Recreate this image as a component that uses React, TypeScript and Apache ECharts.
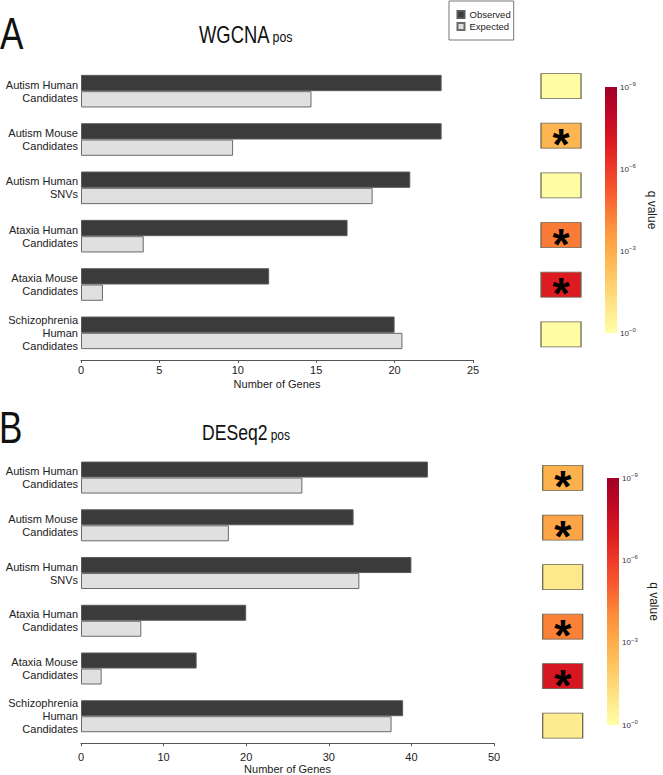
import React, { useEffect, useRef } from "react";
import * as echarts from "echarts";

const categories = [
  "Autism Human\nCandidates",
  "Autism Mouse\nCandidates",
  "Autism Human\nSNVs",
  "Ataxia Human\nCandidates",
  "Ataxia Mouse\nCandidates",
  "Schizophrenia\nHuman\nCandidates",
];

const wgcnaObserved = [23, 23, 21, 17, 12, 20];
const wgcnaExpected = [14.7, 9.7, 18.6, 4.0, 1.4, 20.5];
const deseqObserved = [42, 33, 40, 20, 14, 39];
const deseqExpected = [26.8, 17.9, 33.7, 7.3, 2.5, 37.6];

// -log10(q)
const wgcnaNegLog10Q = [0.02, 2.75, 0.02, 4.4, 6.95, 0.02];
const deseqNegLog10Q = [2.9, 3.3, 0.88, 4.3, 7.2, 0.73];
const wgcnaSignificant = [false, true, false, true, true, false];
const deseqSignificant = [true, true, false, true, true, false];

const qTicks = [0, 3, 6, 9];
const qMax = 9;

const colorScale = [
  "#FFFFA6", "#FEE588", "#FECA66", "#FDAE4A", "#FC8D3C",
  "#F86030", "#EE3A2A", "#DC1A20", "#C00826", "#A00028",
];

const FONT = "'Liberation Sans', Arial, Helvetica, sans-serif";

export default function App() {
  const ref = useRef<HTMLDivElement>(null);

  useEffect(() => {
    if (!ref.current) return;
    const chart = echarts.init(ref.current, null, { renderer: "svg" });

    const gradient = new echarts.graphic.LinearGradient(
      0, 1, 0, 0,
      colorScale.map((c, i) => ({ offset: i / (colorScale.length - 1), color: c }))
    );

    const barAxisX = (grid: number, max: number, interval: number, margin: number) => ({
      type: "value",
      gridIndex: grid,
      min: 0,
      max,
      interval,
      offset: 3,
      axisLine: { show: true, lineStyle: { color: "#555", width: 1 } },
      axisTick: { show: true, length: 3, lineStyle: { color: "#555" } },
      axisLabel: { fontSize: 11, color: "#222", margin, fontFamily: FONT },
      splitLine: { show: false },
      name: "Number of Genes",
      nameLocation: "middle",
      nameGap: 18,
      nameTextStyle: { fontSize: 11, color: "#222", fontFamily: FONT },
    });

    const barAxisY = (grid: number) => ({
      type: "category",
      gridIndex: grid,
      inverse: true,
      data: categories,
      axisLine: { show: false },
      axisTick: { show: false },
      axisLabel: { fontSize: 11, color: "#222", margin: 3, lineHeight: 13, fontFamily: FONT },
    });

    const colorbarAxisY = (grid: number) => ({
      type: "value",
      gridIndex: grid,
      min: 0,
      max: qMax,
      interval: 3,
      position: "right",
      axisLine: { show: false },
      axisTick: { show: false },
      splitLine: { show: false },
      axisLabel: {
        margin: 3,
        formatter: (v: number) => (qTicks.includes(v) ? `{b|10}{s|\u2212${v}}` : ""),
        rich: {
          b: { fontSize: 8, color: "#333", fontFamily: FONT },
          s: { fontSize: 6, color: "#333", fontFamily: FONT, padding: [0, 0, 6, 0] },
        },
      },
      name: "q value",
      nameLocation: "middle",
      nameRotate: -90,
      nameGap: 29,
      nameTextStyle: { fontSize: 12, color: "#222", fontFamily: FONT },
    });

    const hidden = (grid: number, kind: "x" | "y") =>
      kind === "x"
        ? { type: "value", gridIndex: grid, min: -1, max: 1, show: false }
        : { type: "category", gridIndex: grid, inverse: true, data: categories, show: false };

    const squareSeries = (xi: number, q: number[], sig: boolean[]) => ({
      type: "scatter",
      xAxisIndex: xi,
      yAxisIndex: xi,
      symbol: "rect",
      symbolSize: [40, 25],
      data: q.map((v, i) => [0, i, v]),
      itemStyle: { borderColor: "#6b6553", borderWidth: 1, opacity: 1 },
      label: {
        show: true,
        position: "inside",
        formatter: (p: any) => (sig[p.dataIndex] ? "*" : ""),
        fontSize: 44,
        fontWeight: "bold",
        color: "#000",
        fontFamily: FONT,
        offset: [0, 9],
      },
      emphasis: { disabled: true },
      silent: true,
    });

    const titleText = (text: string, x: number, y: number, fontSize: number, scaleX: number) => ({
      type: "text",
      x,
      y,
      scaleX,
      silent: true,
      style: {
        text,
        fontSize,
        fontFamily: FONT,
        fill: "#111",
        align: "left",
        verticalAlign: "middle",
      },
    });

    chart.setOption({
      animation: false,
      backgroundColor: "#fff",
      textStyle: { fontFamily: FONT },
      legend: {
        data: ["Observed", "Expected"],
        orient: "vertical",
        left: 449,
        top: 1,
        padding: [8, 3, 8, 7.5],
        itemWidth: 7,
        itemHeight: 7,
        itemGap: 1,
        icon: "rect",
        borderColor: "#777",
        borderWidth: 1,
        textStyle: { fontSize: 9.5, color: "#222", lineHeight: 11, fontFamily: FONT },
        selectedMode: false,
      },
      visualMap: [
        {
          type: "continuous",
          show: false,
          seriesIndex: [4, 5],
          dimension: 2,
          min: 0,
          max: qMax,
          inRange: { color: colorScale },
        },
      ],
      grid: [
        { left: 81, top: 67, width: 392, height: 290 },
        { left: 81, top: 453.7, width: 413, height: 288.6 },
        { left: 541, top: 61.2, width: 40, height: 298 },
        { left: 542.7, top: 453.2, width: 40, height: 297.3 },
        { left: 605, top: 87, width: 12, height: 246 },
        { left: 607, top: 478, width: 12, height: 247 },
      ],
      xAxis: [
        barAxisX(0, 25, 5, 4),
        barAxisX(1, 50, 10, 8),
        hidden(2, "x"),
        hidden(3, "x"),
        { type: "category", gridIndex: 4, data: ["q"], show: false },
        { type: "category", gridIndex: 5, data: ["q"], show: false },
      ],
      yAxis: [
        barAxisY(0),
        barAxisY(1),
        hidden(2, "y"),
        hidden(3, "y"),
        colorbarAxisY(4),
        colorbarAxisY(5),
      ],
      series: [
        {
          type: "bar", name: "Observed", xAxisIndex: 0, yAxisIndex: 0,
          data: wgcnaObserved, barWidth: 16.3, barGap: "0%",
          itemStyle: { color: "#3b3b3b", borderColor: "#5a5a5a", borderWidth: 1 },
          silent: true,
        },
        {
          type: "bar", name: "Expected", xAxisIndex: 0, yAxisIndex: 0,
          data: wgcnaExpected, barWidth: 16.3, barGap: "0%",
          itemStyle: { color: "#e0e0e0", borderColor: "#6a6a6a", borderWidth: 1 },
          silent: true,
        },
        {
          type: "bar", name: "Observed", xAxisIndex: 1, yAxisIndex: 1,
          data: deseqObserved, barWidth: 16, barGap: "0%",
          itemStyle: { color: "#3b3b3b", borderColor: "#5a5a5a", borderWidth: 1 },
          silent: true,
        },
        {
          type: "bar", name: "Expected", xAxisIndex: 1, yAxisIndex: 1,
          data: deseqExpected, barWidth: 16, barGap: "0%",
          itemStyle: { color: "#e0e0e0", borderColor: "#6a6a6a", borderWidth: 1 },
          silent: true,
        },
        squareSeries(2, wgcnaNegLog10Q, wgcnaSignificant),
        squareSeries(3, deseqNegLog10Q, deseqSignificant),
        {
          type: "bar", name: "qbarA", xAxisIndex: 4, yAxisIndex: 4,
          data: [qMax], barWidth: "100%", itemStyle: { color: gradient }, silent: true,
        },
        {
          type: "bar", name: "qbarB", xAxisIndex: 5, yAxisIndex: 5,
          data: [qMax], barWidth: "100%", itemStyle: { color: gradient }, silent: true,
        },
      ],
      graphic: [
        titleText("A", 0, 33.3, 45, 0.78),
        titleText("B", -1, 427.3, 45, 0.78),
        titleText("WGCNA", 199, 34.3, 23, 0.8),
        titleText("pos", 272.5, 36.9, 15.5, 0.8),
        titleText("DESeq2", 202, 432.5, 22, 0.8),
        titleText("pos", 270.7, 434.6, 15, 0.8),
      ],
    });

    return () => chart.dispose();
  }, []);

  return (
    <div
      ref={ref}
      style={{ position: "absolute", left: 0, top: 0, width: 663, height: 775 }}
    />
  );
}
